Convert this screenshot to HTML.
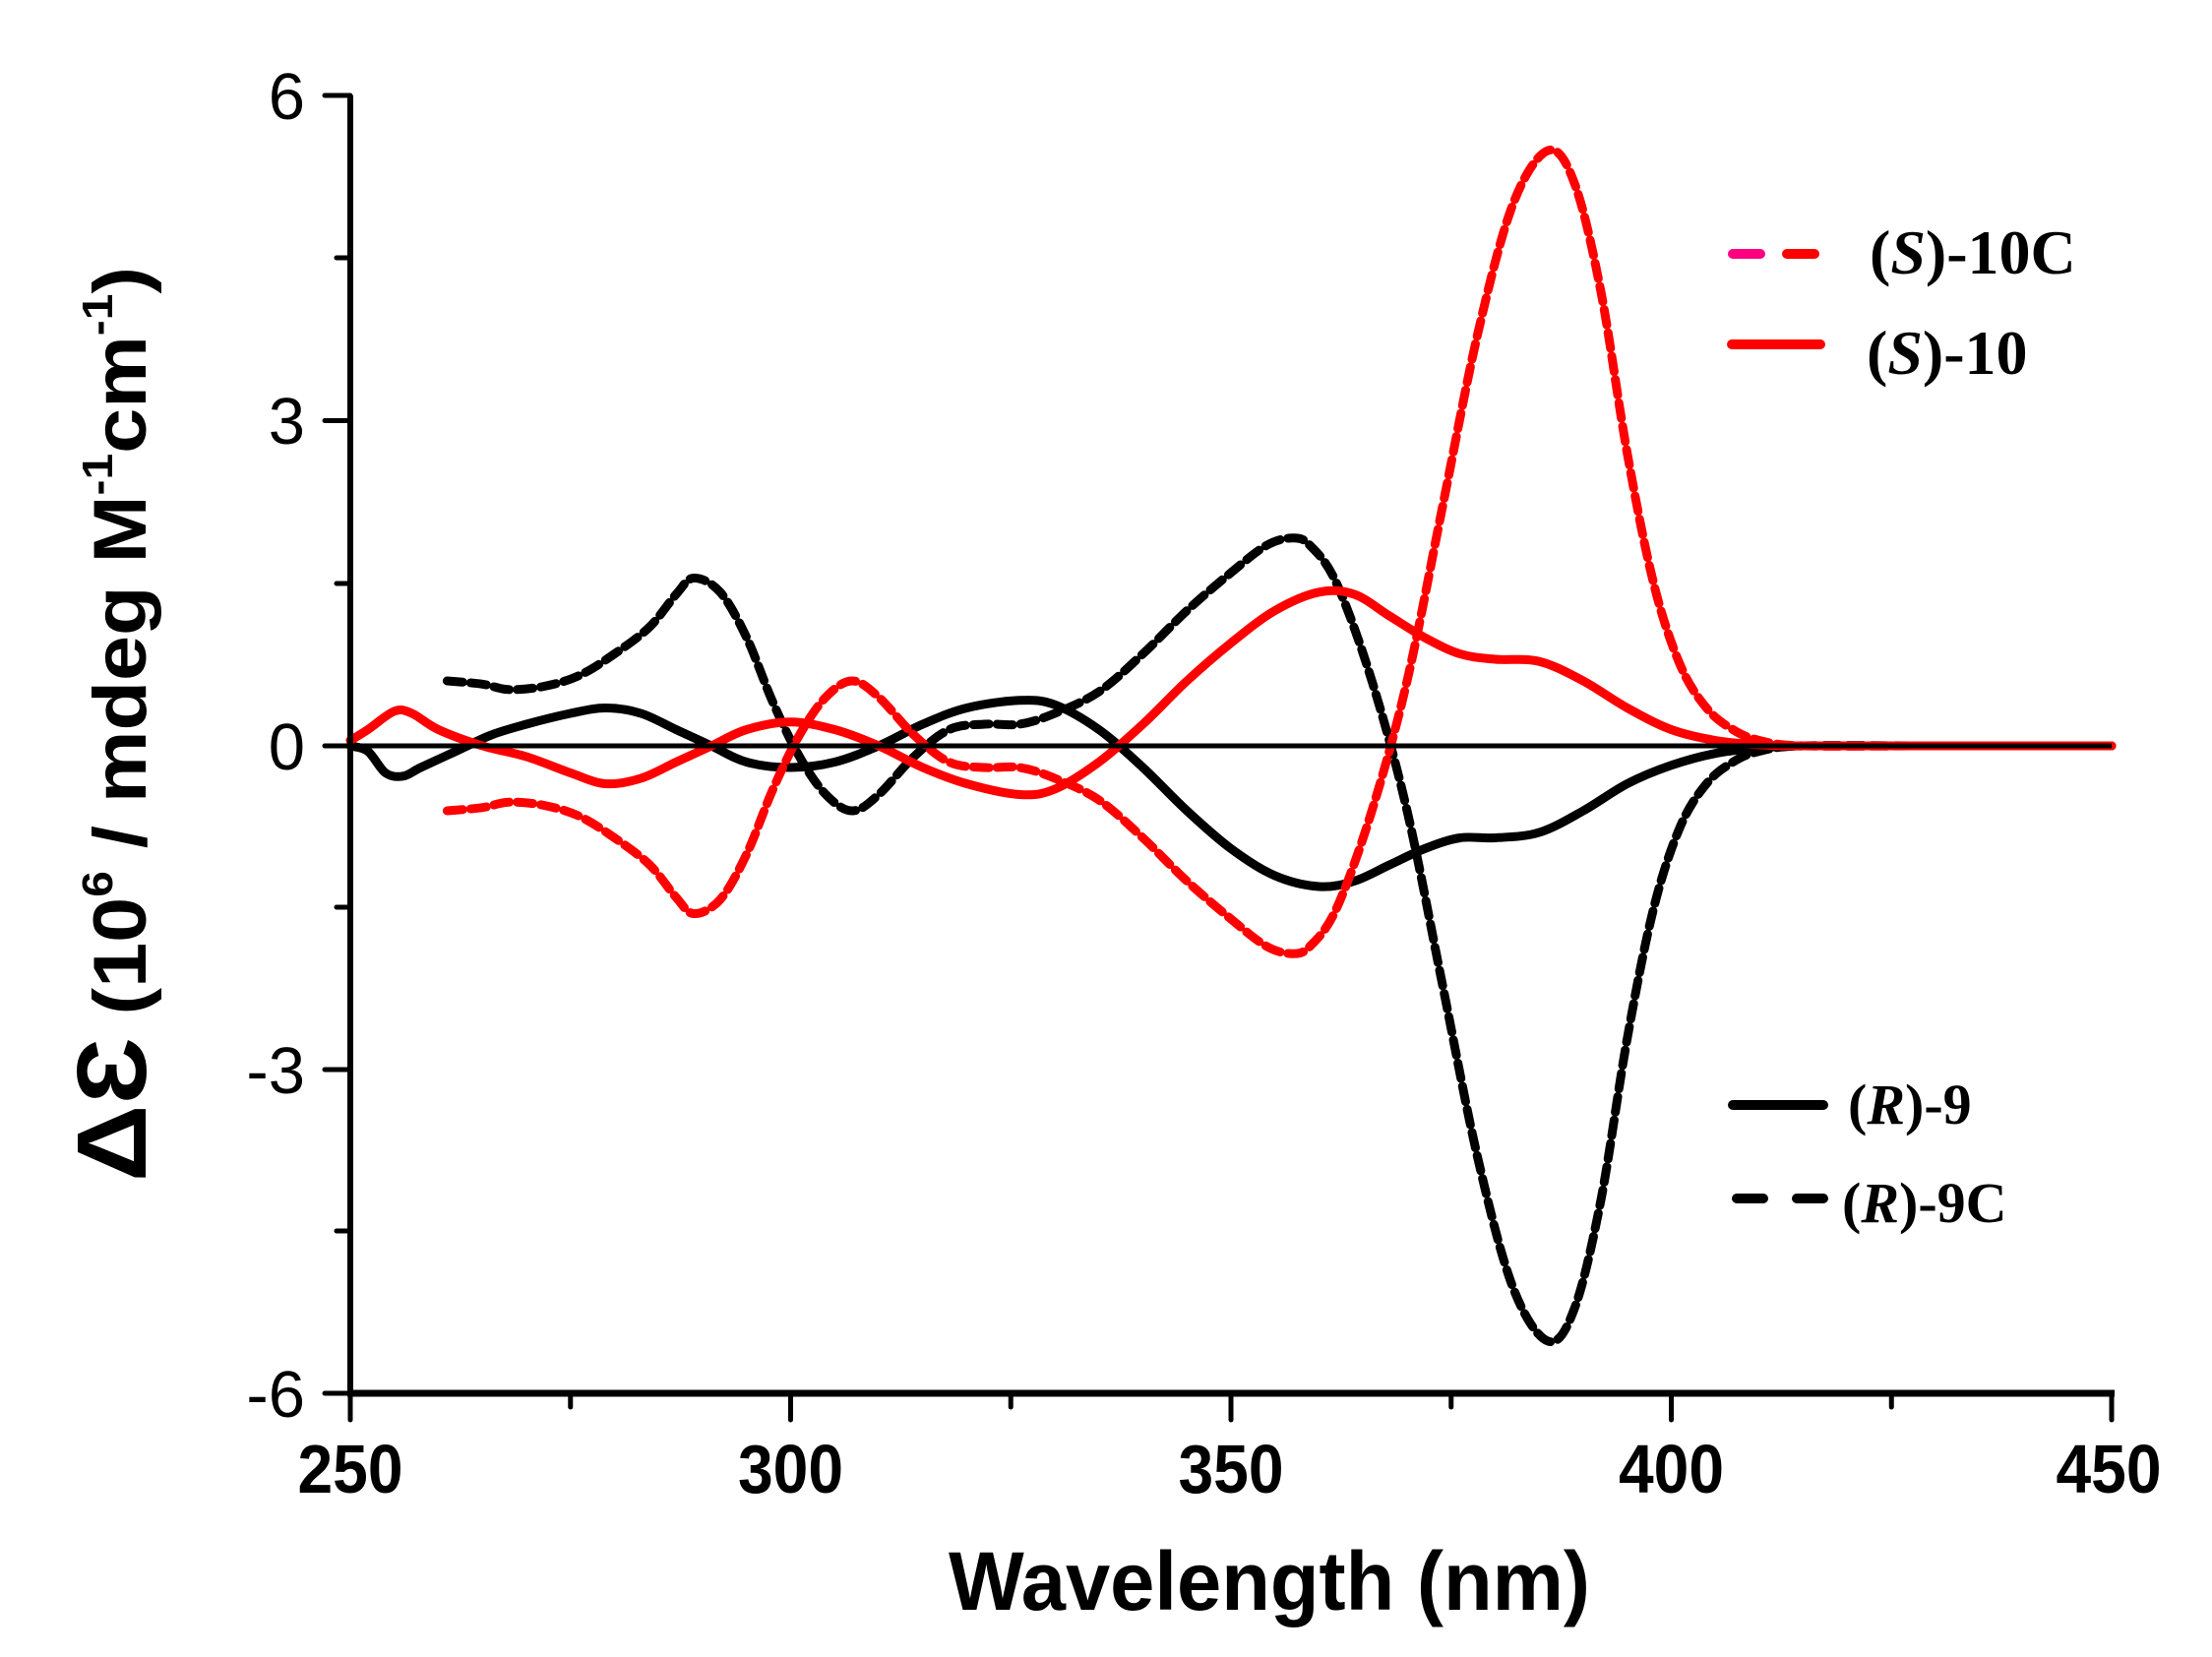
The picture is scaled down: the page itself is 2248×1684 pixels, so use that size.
<!DOCTYPE html>
<html><head><meta charset="utf-8"><style>
html,body{margin:0;padding:0;background:#fff;}
svg{display:block;}
</style></head><body>
<svg id="s" width="2248" height="1684" viewBox="0 0 2248 1684" xmlns="http://www.w3.org/2000/svg">
<rect width="2248" height="1684" fill="#fff"/>
<g id="curves"></g>
<line x1="356" y1="97" x2="356" y2="1418" stroke="#000" stroke-width="6"/>
<line x1="353" y1="1416" x2="2149" y2="1416" stroke="#000" stroke-width="7"/>
<line x1="356" y1="758" x2="2146" y2="758" stroke="#000" stroke-width="5"/>
<g stroke="#000" stroke-width="5" stroke-linecap="round">
<line x1="330" y1="97" x2="356" y2="97"/><line x1="330" y1="427.5" x2="356" y2="427.5"/>
<line x1="330" y1="758" x2="356" y2="758"/><line x1="330" y1="1087" x2="356" y2="1087"/>
<line x1="330" y1="1416" x2="356" y2="1416"/>
<line x1="342" y1="262" x2="356" y2="262"/><line x1="342" y1="593" x2="356" y2="593"/>
<line x1="342" y1="922" x2="356" y2="922"/><line x1="342" y1="1251" x2="356" y2="1251"/>
<line x1="356" y1="1416" x2="356" y2="1443"/><line x1="803.5" y1="1416" x2="803.5" y2="1443"/>
<line x1="1251" y1="1416" x2="1251" y2="1443"/><line x1="1698.5" y1="1416" x2="1698.5" y2="1443"/>
<line x1="2146" y1="1416" x2="2146" y2="1443"/>
<line x1="579.75" y1="1416" x2="579.75" y2="1430"/><line x1="1027.25" y1="1416" x2="1027.25" y2="1430"/>
<line x1="1474.75" y1="1416" x2="1474.75" y2="1430"/><line x1="1922.25" y1="1416" x2="1922.25" y2="1430"/>
</g>
<g font-family="Liberation Sans, Arial, sans-serif" font-size="67" text-anchor="end">
<text x="310" y="121">6</text><text x="310" y="451">3</text><text x="310" y="782">0</text>
<text x="310" y="1111">-3</text><text x="310" y="1440">-6</text>
</g>
<g font-family="Liberation Sans, Arial, sans-serif" font-size="70" font-weight="bold" text-anchor="middle">
<text x="356" y="1517" textLength="107" lengthAdjust="spacingAndGlyphs">250</text>
<text x="803.5" y="1517" textLength="107" lengthAdjust="spacingAndGlyphs">300</text>
<text x="1251" y="1517" textLength="107" lengthAdjust="spacingAndGlyphs">350</text>
<text x="1698.5" y="1517" textLength="107" lengthAdjust="spacingAndGlyphs">400</text>
<text x="2143" y="1517" textLength="107" lengthAdjust="spacingAndGlyphs">450</text>
</g>
<text x="1290" y="1636" font-family="Liberation Sans, Arial, sans-serif" font-size="84" font-weight="bold" text-anchor="middle" textLength="652" lengthAdjust="spacingAndGlyphs">Wavelength (nm)</text>
<text transform="translate(148,736) rotate(-90)" font-family="Liberation Sans, Arial, sans-serif" font-weight="bold" font-size="76" text-anchor="middle" textLength="930" lengthAdjust="spacingAndGlyphs"><tspan font-size="100">ΔƐ</tspan> (10<tspan font-size="44" dy="-34">6</tspan><tspan dy="34"> / mdeg M</tspan><tspan font-size="44" dy="-34">-1</tspan><tspan dy="34">cm</tspan><tspan font-size="44" dy="-34">-1</tspan><tspan dy="34">)</tspan></text>
<g stroke-width="10" stroke-linecap="round">
<line x1="1761" y1="258" x2="1789" y2="258" stroke="#ff0080"/>
<line x1="1816" y1="258" x2="1844" y2="258" stroke="#ff0000"/>
<line x1="1760" y1="350" x2="1850" y2="350" stroke="#ff0000"/>
<line x1="1761" y1="1123" x2="1853" y2="1123" stroke="#000"/>
<line x1="1765" y1="1218" x2="1792" y2="1218" stroke="#000"/>
<line x1="1826" y1="1218" x2="1853" y2="1218" stroke="#000"/>
</g>
<g font-family="Liberation Serif, Times New Roman, serif" font-weight="bold">
<text x="1900" y="278" font-size="64">(<tspan font-style="italic">S</tspan>)-10C</text>
<text x="1897" y="380" font-size="64">(<tspan font-style="italic">S</tspan>)-10</text>
<text x="1878" y="1142" font-size="58">(<tspan font-style="italic">R</tspan>)-9</text>
<text x="1872" y="1242" font-size="58">(<tspan font-style="italic">R</tspan>)-9C</text>
</g>
</svg>
<script>
(function(){
function X(w){return 356+(w-250)*8.95;}
function Y(v){return 758-v*110;}
var dashed=[[261,0.6],[265,0.57],[268,0.52],[272,0.55],[276,0.65],[280,0.85],[284,1.1],[287,1.4],[289,1.55],[292,1.42],[295,1.0],[298,0.4],[301,-0.1],[304,-0.45],[307,-0.6],[310,-0.45],[314,-0.1],[318,0.15],[322,0.2],[326,0.2],[330,0.3],[335,0.5],[340,0.85],[345,1.25],[350,1.6],[354,1.85],[357,1.92],[359,1.85],[362,1.5],[366,0.6],[370,-0.6],[374,-2.2],[378,-3.8],[382,-5.0],[386,-5.5],[389,-5.2],[392,-4.2],[395,-2.7],[398,-1.5],[401,-0.75],[404,-0.35],[407,-0.15],[410,-0.05],[415,0],[430,0],[450,0]];
var solid=[[250,0],[252,-0.05],[254,-0.25],[256,-0.28],[258,-0.2],[262,-0.05],[266,0.1],[270,0.2],[275,0.3],[279,0.35],[283,0.3],[287,0.15],[291,0],[295,-0.15],[300,-0.2],[305,-0.15],[310,0],[315,0.2],[320,0.35],[326,0.42],[330,0.38],[335,0.15],[340,-0.2],[345,-0.6],[350,-0.95],[355,-1.2],[360,-1.3],[364,-1.25],[368,-1.1],[372,-0.95],[376,-0.85],[380,-0.85],[385,-0.8],[390,-0.6],[395,-0.35],[400,-0.18],[405,-0.07],[410,-0.02],[415,0],[430,0],[450,0]];
var redsolid=[[250,0.05],[252,0.15],[255,0.32],[257,0.3],[260,0.15],[265,0.0],[270,-0.1],[275,-0.25],[279,-0.35],[283,-0.3],[287,-0.15],[291,0],[295,0.15],[300,0.22],[305,0.15],[310,0],[315,-0.2],[320,-0.35],[326,-0.45],[330,-0.4],[335,-0.15],[340,0.2],[345,0.6],[350,0.95],[355,1.25],[360,1.42],[364,1.4],[368,1.2],[372,1.0],[376,0.85],[380,0.8],[385,0.78],[390,0.6],[395,0.35],[400,0.15],[405,0.05],[410,0.01],[415,0],[430,0],[450,0]];
function path(d,neg){
 var p=d.map(function(a){return [X(a[0]),Y(neg?-a[1]:a[1])];});
 var s="M"+p[0][0].toFixed(1)+","+p[0][1].toFixed(1);
 for(var i=0;i<p.length-1;i++){
  var p0=p[i-1]||p[i],p1=p[i],p2=p[i+1],p3=p[i+2]||p2;
  var c1=[p1[0]+(p2[0]-p0[0])/6,p1[1]+(p2[1]-p0[1])/6];
  var c2=[p2[0]-(p3[0]-p1[0])/6,p2[1]-(p3[1]-p1[1])/6];
  s+="C"+c1[0].toFixed(1)+","+c1[1].toFixed(1)+" "+c2[0].toFixed(1)+","+c2[1].toFixed(1)+" "+p2[0].toFixed(1)+","+p2[1].toFixed(1);
 }
 return s;
}
var g=document.getElementById("curves"),ns="http://www.w3.org/2000/svg";
function add(d,neg,col,dash){
 var e=document.createElementNS(ns,"path");
 e.setAttribute("d",path(d,neg));e.setAttribute("fill","none");
 e.setAttribute("stroke",col);e.setAttribute("stroke-width","9");
 e.setAttribute("stroke-linecap","round");e.setAttribute("stroke-linejoin","round");
 if(dash)e.setAttribute("stroke-dasharray","16 8");
 g.appendChild(e);
}
add(solid,false,"#000",false);
add(dashed,false,"#000",true);
add(dashed,true,"#ff0000",true);
add(redsolid,false,"#ff0000",false);
})();
</script>
</body></html>
